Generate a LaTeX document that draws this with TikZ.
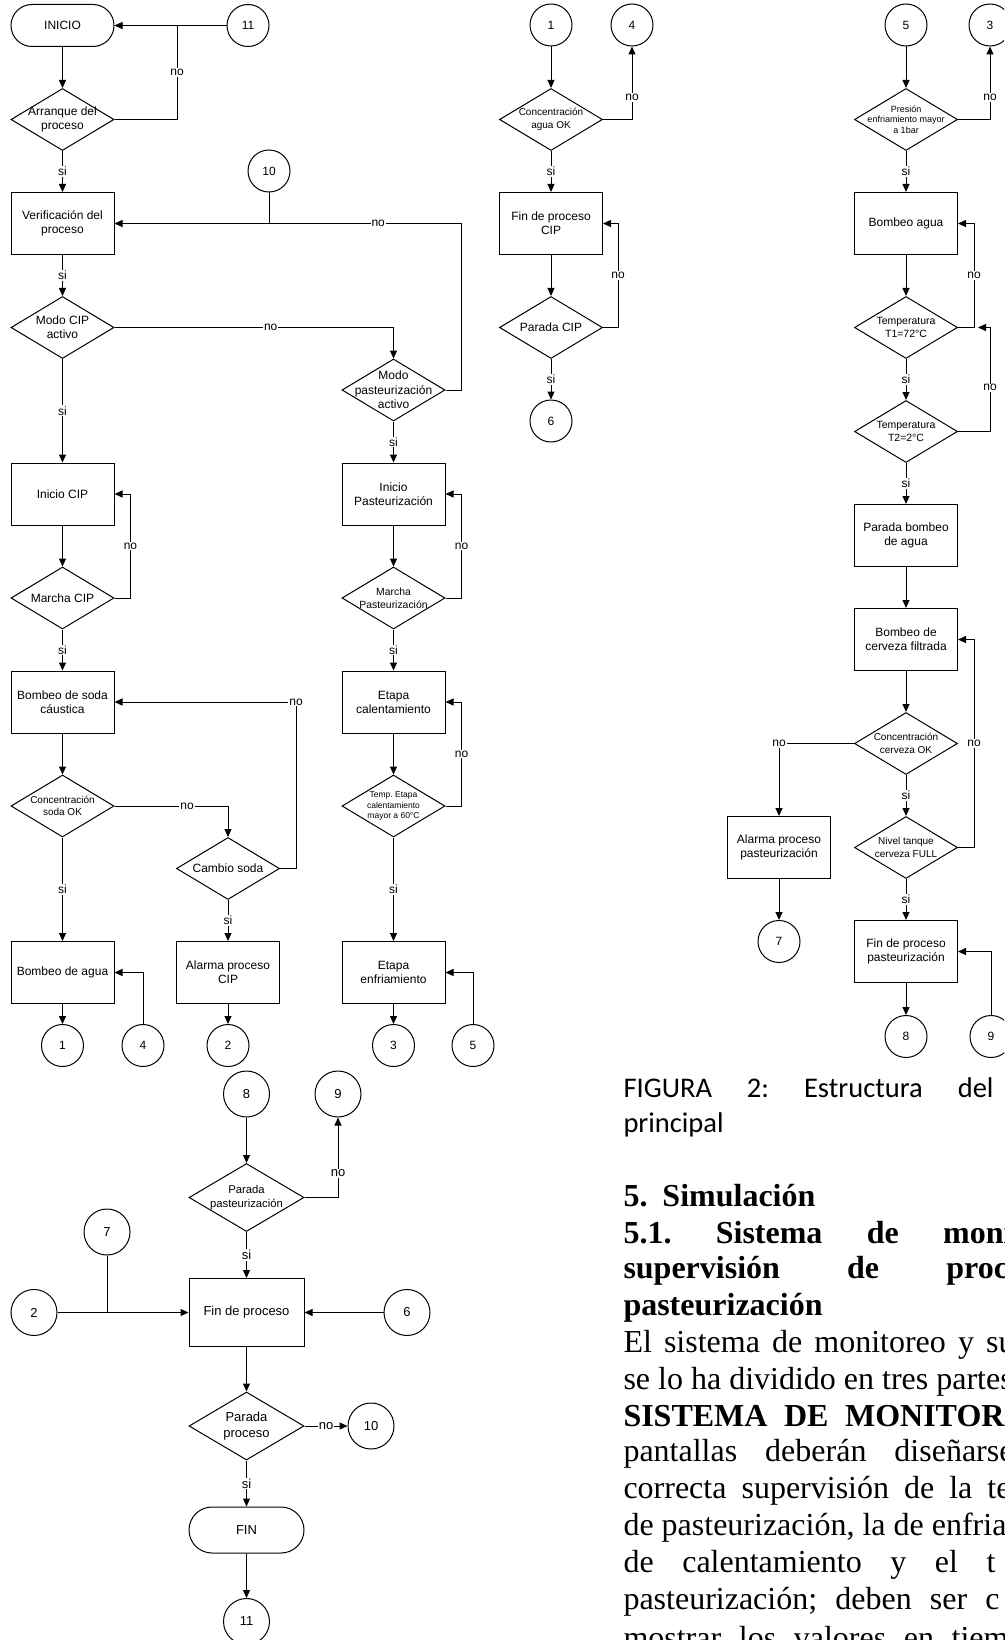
\documentclass[tikz,border=0pt]{standalone}
\usepackage{fontspec}
\setmainfont{Liberation Serif}
\newfontfamily\flowfont{Liberation Sans}
\newfontfamily\capfont{Carlito}
\usetikzlibrary{shapes.geometric,arrows.meta,positioning}
\newcommand{\ffont}[2]{\flowfont\fontsize{#1}{#2}\selectfont}
\frenchspacing

\begin{document}
\begin{tikzpicture}[x=1pt, y=-1pt, node distance=104pt, line width=1pt,
    >={Triangle[length=8pt,width=7pt]},
    proc/.style = {draw, rectangle, minimum width=103pt, minimum height=62pt, inner sep=1pt, align=center, font=\ffont{12}{14}},
    term/.style = {draw, rectangle, rounded corners=21pt, minimum width=103pt, minimum height=42pt, font=\ffont{12}{14}},
    dtxt/.style = {align=center, inner sep=0pt, font=\ffont{12}{14}},
    dec/.style 2 args = {draw, diamond, minimum width=103pt, minimum height=62pt, inner sep=0pt, label={[dtxt,#2]center:#1}},
    conn/.style = {draw, circle, minimum size=42pt, inner sep=0pt, font=\ffont{12}{14}},
    connb/.style = {conn, minimum size=46pt, font=\ffont{13}{15}},
    big/.style = {minimum width=115pt, minimum height=68pt, font=\ffont{13}{15.5}},
    lbl/.style = {fill=white, inner sep=1pt, font=\ffont{12}{14}},
    lblb/.style = {lbl, font=\ffont{13}{15}},
    body/.style = {anchor=base west, inner sep=0pt, font=\fontsize{32}{36.6}\selectfont},
    bhead/.style = {body, font=\fontsize{32}{36.6}\selectfont\bfseries}]
  \useasboundingbox (0,0) rectangle (1004,1640);
  \fill[white] (0,0) rectangle (1004,1640);
  \clip (0,0) rectangle (1004,1640);

  % CIP
  \node[term] (ini) at (62.5,25.5) {INICIO};
  \node[conn] (k11) [right of=ini, node distance=185.5pt] {11};
  \node[dec={Arranque del\\proceso}{}] (arr) [below of=ini, node distance=94pt] {};
  \node[proc] (ver) [below of=arr] {Verificación del\\proceso};
  \node[conn] (k10) at (269,171) {10};
  \node[dec={Modo CIP\\activo}{}] (mcip) [below of=ver] {};
  \node[proc] (icip) [below of=mcip, node distance=166.5pt] {Inicio CIP};
  \node[dec={Marcha CIP}{}] (marcip) [below of=icip] {};
  \node[proc] (bsoda) [below of=marcip] {Bombeo de soda\\cáustica};
  \node[dec={Concentración\\soda OK}{font=\ffont{10}{12.3}}] (csoda) [below of=bsoda] {};
  \node[proc] (bagua) [below of=csoda, node distance=166.5pt] {Bombeo de agua};
  \node[conn] (k1) [below of=bagua, node distance=73pt] {1};
  \node[conn] (k4) [right of=k1, node distance=80.5pt] {4};
  \node[conn] (k2) [right of=k4, node distance=85pt] {2};
  \node[proc] (alcip) [above of=k2, node distance=73pt] {Alarma proceso\\CIP};
  \node[dec={Cambio soda}{}] (cambio) [above of=alcip] {};

  % pasteurizacion
  \node[dec={Modo\\pasteurización\\activo}{font=\ffont{12}{14.5}}] (mpas) at (393.5,390) {};
  \node[proc] (ipas) [below of=mpas] {Inicio\\Pasteurización};
  \node[dec={Marcha\\Pasteurización}{font=\ffont{10.4}{13}}] (marpas) [below of=ipas] {};
  \node[proc] (ecal) [below of=marpas] {Etapa\\calentamiento};
  \node[dec={Temp. Etapa\\calentamiento\\mayor a 60°C}{font=\ffont{8.5}{10.8}}] (tcal) [below of=ecal] {};
  \node[proc] (eenf) [below of=tcal, node distance=166.5pt] {Etapa\\enfriamiento};
  \node[conn] (k3) [below of=eenf, node distance=73pt] {3};
  \node[conn] (k5) [right of=k3, node distance=79.5pt] {5};

  % fin CIP
  \node[conn] (k1b) at (551,25) {1};
  \node[conn] (k4b) [right of=k1b, node distance=81pt] {4};
  \node[dec={Concentración\\agua OK}{font=\ffont{10}{12.3}}] (cagua) [below of=k1b, node distance=94.5pt] {};
  \node[proc] (fcip) [below of=cagua] {Fin de proceso\\CIP};
  \node[dec={Parada CIP}{}] (pcip) [below of=fcip] {};
  \node[conn] (k6) [below of=pcip, node distance=93.5pt] {6};

  % enfriamiento
  \node[conn] (k5b) at (906,25) {5};
  \node[conn] (k3b) [right of=k5b, node distance=84pt] {3};
  \node[dec={Presión\\enfriamiento mayor\\a 1bar}{font=\ffont{9}{10.5}}] (pres) [below of=k5b, node distance=94.5pt] {};
  \node[proc] (bag2) [below of=pres] {Bombeo agua};
  \node[dec={Temperatura\\T1=72°C}{font=\ffont{10.5}{12.3}}] (t1) [below of=bag2] {};
  \node[dec={Temperatura\\T2=2°C}{font=\ffont{10.5}{12.3}}] (t2) [below of=t1] {};
  \node[proc] (pbag) [below of=t2] {Parada bombeo\\de agua};
  \node[proc] (bcer) [below of=pbag] {Bombeo de\\cerveza filtrada};
  \node[dec={Concentración\\cerveza OK}{font=\ffont{10}{13.3}}] (ccer) [below of=bcer] {};
  \node[dec={Nivel tanque\\cerveza FULL}{font=\ffont{10}{13.3}}] (nivel) [below of=ccer] {};
  \node[proc] (fpas) [below of=nivel] {Fin de proceso\\pasteurización};
  \node[proc] (alpas) [left of=nivel, node distance=127pt] {Alarma proceso\\pasteurización};
  \node[conn] (k7) [below of=alpas, node distance=94pt] {7};
  \node[conn] (k8) [below of=fpas, node distance=85pt] {8};
  \node[conn] (k9) [right of=k8, node distance=85pt] {9};
  \coordinate (jt1) at (978,327.5);

  % fin de proceso
  \node[proc, big] (fin) at (246.5,1312.5) {Fin de proceso};
  \node[dec={Parada\\pasteurización}{font=\ffont{11.3}{13.3}}, big] (ppas) [above of=fin, node distance=115pt] {};
  \node[connb] (k8c) [above of=ppas, node distance=103.5pt] {8};
  \node[connb] (k9c) [right of=k8c, node distance=91.5pt] {9};
  \node[connb] (k2c) [left of=fin, node distance=212.5pt] {2};
  \node[connb] (k6c) [right of=fin, node distance=160.5pt] {6};
  \node[connb] (k7c) at (107,1232) {7};
  \node[dec={Parada\\proceso}{font=\ffont{13}{15.5}}, big] (pproc) [below of=fin, node distance=113.5pt] {};
  \node[connb] (k10c) [right of=pproc, node distance=124.5pt] {10};
  \node[term, big, minimum height=46pt, rounded corners=23pt] (fin2) [below of=pproc] {FIN};
  \node[connb] (k11c) [below of=fin2, node distance=91.5pt] {11};

  \coordinate (j11) at (177,25.5);
  \coordinate (j10) at (k10 |- ver);
  \coordinate (j7) at (k7c |- fin);

  \draw[->] (ini) -- (arr);
  \draw[->] (k11) -- (ini);
  \draw (arr.east) -| node[lbl, pos=0.75] {no} (j11);
  \draw[->] (arr) -- node[lbl] {si} (ver);
  \draw (k10) -- (j10);
  \draw[->] (mpas.east) -- ++(16,0) |- node[lbl, pos=0.62] {no} (ver.east);
  \draw[->] (ver) -- node[lbl] {si} (mcip);
  \draw[->] (mcip.east) -| node[lbl, pos=0.28] {no} (mpas.north);
  \draw[->] (mcip) -- node[lbl] {si} (icip);
  \draw[->] (icip) -- (marcip);
  \draw[->] (marcip.east) -- ++(16,0) |- node[lbl, pos=0.25] {no} (icip.east);
  \draw[->] (marcip) -- node[lbl] {si} (bsoda);
  \draw[->] (bsoda) -- (csoda);
  \draw[->] (csoda.east) -| node[lbl, pos=0.32] {no} (cambio.north);
  \draw[->] (cambio.east) -- ++(16,0) |- node[lbl, pos=0.5] {no} (bsoda.east);
  \draw[->] (csoda) -- node[lbl] {si} (bagua);
  \draw[->] (cambio) -- node[lbl] {si} (alcip);
  \draw[->] (bagua) -- (k1);
  \draw[->] (alcip) -- (k2);
  \draw[->] (k4) |- (bagua.east);

  \draw[->] (mpas) -- node[lbl] {si} (ipas);
  \draw[->] (ipas) -- (marpas);
  \draw[->] (marpas.east) -- ++(16,0) |- node[lbl, pos=0.25] {no} (ipas.east);
  \draw[->] (marpas) -- node[lbl] {si} (ecal);
  \draw[->] (ecal) -- (tcal);
  \draw[->] (tcal.east) -- ++(16,0) |- node[lbl, pos=0.25] {no} (ecal.east);
  \draw[->] (tcal) -- node[lbl] {si} (eenf);
  \draw[->] (eenf) -- (k3);
  \draw[->] (k5) |- (eenf.east);

  \draw[->] (k1b) -- (cagua);
  \draw[->] (cagua.east) -| node[lbl, pos=0.65] {no} (k4b.south);
  \draw[->] (cagua) -- node[lbl] {si} (fcip);
  \draw[->] (fcip) -- (pcip);
  \draw[->] (pcip.east) -- ++(15,0) |- node[lbl, pos=0.25] {no} (fcip.east);
  \draw[->] (pcip) -- node[lbl] {si} (k6);

  \draw[->] (k5b) -- (pres);
  \draw[->] (pres.east) -| node[lbl, pos=0.65] {no} (k3b.south);
  \draw[->] (pres) -- node[lbl] {si} (bag2);
  \draw[->] (bag2) -- (t1);
  \draw[->] (t1.east) -- ++(16,0) |- node[lbl, pos=0.25] {no} (bag2.east);
  \draw[->] (t1) -- node[lbl] {si} (t2);
  \draw[->] (t2.east) -- ++(32,0) |- node[lbl, pos=0.21] {no} (jt1);
  \draw[->] (t2) -- node[lbl] {si} (pbag);
  \draw[->] (pbag) -- (bcer);
  \draw[->] (bcer) -- (ccer);
  \draw[->] (ccer.west) -| node[lbl, pos=0.5] {no} (alpas.north);
  \draw[->] (ccer) -- node[lbl] {si} (nivel);
  \draw[->] (nivel.east) -- ++(16,0) |- node[lbl, pos=0.25] {no} (bcer.east);
  \draw[->] (nivel) -- node[lbl] {si} (fpas);
  \draw[->] (alpas) -- (k7);
  \draw[->] (fpas) -- (k8);
  \draw[->] (k9) |- (fpas.east);

  \draw[->] (k8c) -- (ppas);
  \draw[->] (ppas.east) -| node[lblb, pos=0.65] {no} (k9c.south);
  \draw[->] (ppas) -- node[lblb] {si} (fin);
  \draw[->] (k2c) -- (fin);
  \draw (k7c) -- (j7);
  \draw[->] (k6c) -- (fin);
  \draw[->] (fin) -- (pproc);
  \draw[->] (pproc) -- node[lblb] {no} (k10c);
  \draw[->] (pproc) -- node[lblb] {si} (fin2);
  \draw[->] (fin2) -- (k11c);

  % texto de la pagina
  \node[body, font=\capfont\fontsize{28.5}{35}\selectfont] (cap1) at (623,1097) {\makebox[370pt][s]{FIGURA 2: Estructura del}};
  \node[body, font=\capfont\fontsize{28.5}{35}\selectfont] (cap2) at (623,1132) {principal};
  \node[bhead] (tx0) at (623,1206) {5.\hspace{15pt}Simulación};
  \node[bhead] (tx1) at (623,1243) {\makebox[389pt][s]{5.1. Sistema de moni}};
  \node[bhead] (tx2) at (623,1278) {\makebox[384.5pt][s]{supervisión de proc}};
  \node[bhead] (tx3) at (623,1315) {pasteurización};
  \node[body] (tx4) at (623,1352) {\makebox[391pt][s]{El sistema de monitoreo y su}};
  \node[body] (tx5) at (623,1389) {se lo ha dividido en tres partes};
  \node[bhead] (tx6) at (623,1426) {\makebox[381pt][s]{SISTEMA DE MONITOR}};
  \node[body] (tx7) at (623,1461) {\makebox[390pt][s]{pantallas deberán diseñarse}};
  \node[body] (tx8) at (623,1498) {\makebox[387pt][s]{correcta supervisión de la te}};
  \node[body] (tx9) at (623,1535) {de pasteurización, la de enfria};
  \node[body] (tx10) at (623,1572) {\makebox[372pt][s]{de calentamiento y el t}};
  \node[body] (tx11) at (623,1609) {\makebox[376pt][s]{pasteurización; deben ser c}};
  \node[body] (tx12) at (623,1648) {\makebox[385pt][s]{mostrar los valores en tiem}};
\end{tikzpicture}
\end{document}
